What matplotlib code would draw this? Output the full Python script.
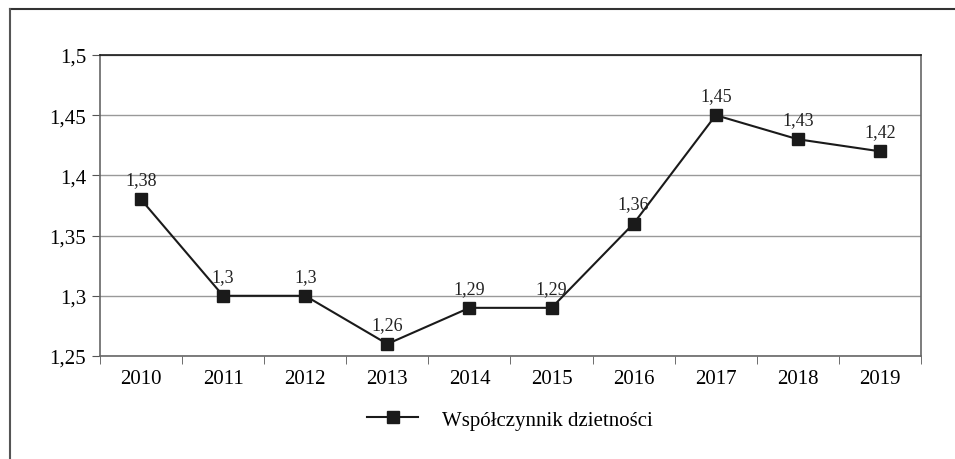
import matplotlib.pyplot as plt
from matplotlib.lines import Line2D

plt.rcParams['font.family'] = ['Liberation Serif', 'DejaVu Serif']

years = ['2010', '2011', '2012', '2013', '2014', '2015', '2016', '2017', '2018', '2019']
values = [1.38, 1.30, 1.30, 1.26, 1.29, 1.29, 1.36, 1.45, 1.43, 1.42]
yticks = [1.25, 1.30, 1.35, 1.40, 1.45, 1.50]
series_name = 'Współczynnik dzietności'


def pl(v):
    # polish decimal comma, drop trailing zeros
    s = ('%.2f' % v).rstrip('0').rstrip('.')
    return s.replace('.', ',')


fig = plt.figure(figsize=(9.55, 4.6), dpi=100)
ax = fig.add_axes([0.1047, 0.2239, 0.8597, 0.6544])

# outer frame (only top and left edges are visible)
fig.lines.append(Line2D([0.0105, 1.0], [0.979, 0.979], transform=fig.transFigure,
                        color='#333333', linewidth=1.5))
fig.lines.append(Line2D([0.0105, 0.0105], [0.0, 0.979], transform=fig.transFigure,
                        color='#555555', linewidth=1.5))

x = list(range(len(years)))
ax.plot(x, values, color='#1a1a1a', linewidth=1.5, marker='s', markersize=9,
        markerfacecolor='#1a1a1a', markeredgecolor='#1a1a1a', label=series_name, zorder=3)

for xi, v in zip(x, values):
    ax.annotate(pl(v), (xi, v), xytext=(0, 8), textcoords='offset points',
                ha='center', va='bottom', fontsize=13, color='#222222')

ax.set_xlim(-0.5, len(years) - 0.5)
ax.set_ylim(1.25, 1.5)
ax.set_yticks(yticks)
ax.set_yticklabels([pl(t) for t in yticks], fontsize=15)
ax.set_xticks(x)
ax.set_xticklabels(years, fontsize=15)
ax.set_xticks([i - 0.5 for i in range(len(years) + 1)], minor=True)
ax.tick_params(axis='x', which='major', length=0, pad=9)
ax.tick_params(axis='x', which='minor', length=6, color='#555555', direction='out')
ax.tick_params(axis='y', length=6, color='#555555', direction='out', pad=4)

ax.grid(axis='y', color='#999999', linewidth=1)
ax.set_axisbelow(True)
for side in ['left', 'right', 'bottom']:
    ax.spines[side].set_color('#666666')
    ax.spines[side].set_linewidth(1.2)
ax.spines['top'].set_color('#1a1a1a')
ax.spines['top'].set_linewidth(1.2)

fig.legend(loc='center', bbox_to_anchor=(0.534, 0.085), frameon=False, fontsize=15,
           handlelength=2.45, handletextpad=1.15)

fig.savefig('out.png', dpi=100)
